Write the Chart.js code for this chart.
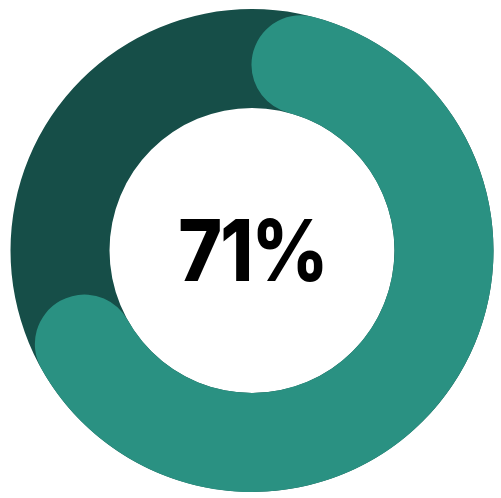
<!DOCTYPE html>
<html>
<head>
<meta charset="utf-8">
<script src="https://cdn.jsdelivr.net/npm/chart.js@4"></script>
<style>
  html, body { margin: 0; padding: 0; background: #ffffff; }
  #wrap { position: relative; width: 501px; height: 498px; }
  #wrap canvas { position: absolute; left: 0; top: 0; }
  #center { position: absolute; left: 0; top: 0; width: 501px; height: 498px;
            display: flex; align-items: center; justify-content: center;
            font-family: Inter, "DejaVu Sans", sans-serif; font-weight: 800;
            font-size: 85px; color: #000; pointer-events: none; }
  #lbl { letter-spacing: -2px; margin-left: 4px; display: inline-block; margin-top: 2px;
         transform: scaleX(0.88); transform-origin: center; }
</style>
</head>
<body>
<div id="wrap">
  <canvas id="bg" width="501" height="498"></canvas>
  <canvas id="fg" width="501" height="498"></canvas>
  <div id="center"><span id="lbl"></span></div>
</div>
<script>
const categories = ['Complete', 'Remaining'];
const values = [71, 29];
const totalRing = [100];
const centerLabel = '71%';
const colors = ['#2a9182', 'rgba(0,0,0,0)'];
const trackColor = '#164e48';

const common = {
  responsive: false,
  animation: false,
  cutout: '59%',
  rotation: 0,
  layout: { padding: { left: 3, right: 0, top: 9, bottom: 6 } },
  plugins: { legend: { display: false }, tooltip: { enabled: false } },
  events: []
};

new Chart(document.getElementById('bg'), {
  type: 'doughnut',
  data: { labels: ['Total'], datasets: [{ data: totalRing, backgroundColor: [trackColor], borderWidth: 0 }] },
  options: common
});

new Chart(document.getElementById('fg'), {
  type: 'doughnut',
  data: { labels: categories, datasets: [{ data: values, backgroundColor: colors, borderWidth: 0, borderRadius: [60, 0] }] },
  options: common
});

document.getElementById('lbl').textContent = centerLabel;
</script>
</body>
</html>
